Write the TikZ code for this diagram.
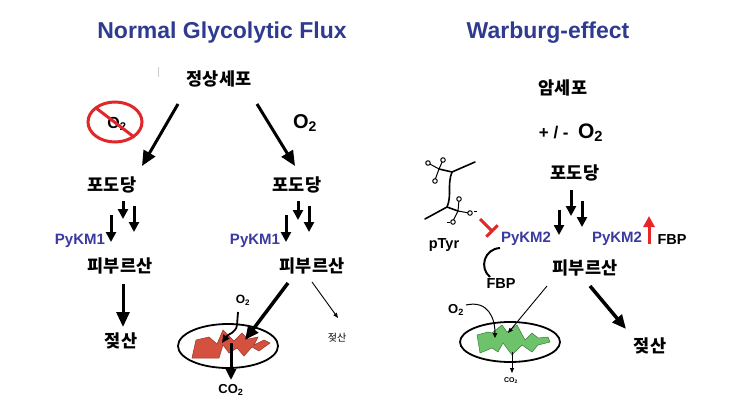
\documentclass[tikz,border=0pt]{standalone}
\usepackage{fontspec}
\setmainfont{Liberation Sans}
\newfontfamily\krfont{Noto Sans CJK KR}
\usetikzlibrary{arrows.meta}
\definecolor{titleblue}{HTML}{2E3B8F}
\definecolor{pkblue}{HTML}{3A3AA0}
\definecolor{nored}{HTML}{E0282A}
\definecolor{mred}{HTML}{D4503F}
\definecolor{mredline}{HTML}{9A3428}
\definecolor{mgreen}{HTML}{6CC36A}
\definecolor{mgreenline}{HTML}{3C7A3A}
\definecolor{upred}{HTML}{E8262A}
\begin{document}
\begin{tikzpicture}[x=1pt,y=-1pt,
  title/.style={font=\bfseries\fontsize{23}{25}\selectfont, text=titleblue, inner sep=0pt},
  kr/.style={font=\krfont\bfseries\fontsize{17.5}{19}\selectfont, inner sep=0pt},
  krsmall/.style={font=\krfont\fontsize{10}{12}\selectfont, inner sep=0pt},
  enz/.style={font=\bfseries\fontsize{15}{17}\selectfont, text=pkblue, inner sep=0pt},
  lbl/.style={font=\bfseries\fontsize{14.5}{16}\selectfont, inner sep=0pt},
  gas/.style={font=\bfseries\fontsize{13}{15}\selectfont, inner sep=0pt},
  tinygas/.style={font=\bfseries\fontsize{7}{8}\selectfont, inner sep=0pt},
  bigarr/.style={line width=3pt, -{Triangle[length=15pt,width=13pt]}},
  smallarr/.style={line width=3pt, -{Triangle[length=10pt,width=10pt]}},
  thinarr/.style={line width=0.9pt, -{Triangle[length=5pt,width=4pt]}},
  mito/.style={draw=black, line width=1.8pt, fill=white},
  bond/.style={line width=1.6pt, line cap=round},
  oatom/.style={circle, draw=black, line width=1pt, fill=white, inner sep=0pt, minimum size=4.5pt},
]
\useasboundingbox (0,0) rectangle (743,412);
\fill[white] (0,0) rectangle (743,412);

% titles
\node[title] (t1) at (222,33) {Normal Glycolytic Flux};
\node[title] (t2) at (548,33) {Warburg-effect};

% faint artifact mark
\draw[gray!40, line width=0.8pt] (158,67) -- (158,77);

% ===== Normal =====
\node[kr] (cell) at (219,79) {정상세포};
% no O2 sign
\node[font=\bfseries\fontsize{16}{18}\selectfont, inner sep=0pt] (noO2) at (117,124) {O\textsubscript{2}};
\draw[nored, line width=3pt] (115,122) ellipse [x radius=27, y radius=20];
\coordinate (sl1) at (96,108);
\coordinate (sl2) at (134,137);
\draw[nored, line width=3pt] (sl1) -- (sl2);
\node[font=\bfseries\fontsize{20}{22}\selectfont, inner sep=0pt] (O2r) at (305,123) {O\textsubscript{2}};

\node[kr] (glcL) at (112,185) {포도당};
\node[kr] (glcR) at (297,185) {포도당};
\coordinate (aL1) at (178,104); \coordinate (aL2) at (142,166);
\coordinate (aR1) at (257,104); \coordinate (aR2) at (295,166);
\draw[bigarr] (aL1) -- (aL2);
\draw[bigarr] (aR1) -- (aR2);

% small arrows left
\coordinate (la1) at (123,201); \coordinate (la2) at (123,219);
\coordinate (lb1) at (134,206); \coordinate (lb2) at (134,232);
\coordinate (lc1) at (111,215); \coordinate (lc2) at (111,242);
\draw[smallarr] (la1) -- (la2);
\draw[smallarr] (lb1) -- (lb2);
\draw[smallarr] (lc1) -- (lc2);
% small arrows right
\coordinate (ra1) at (298,201); \coordinate (ra2) at (298,220);
\coordinate (rb1) at (309,206); \coordinate (rb2) at (309,232);
\coordinate (rc1) at (286,215); \coordinate (rc2) at (286,242);
\draw[smallarr] (ra1) -- (ra2);
\draw[smallarr] (rb1) -- (rb2);
\draw[smallarr] (rc1) -- (rc2);

\node[enz] (pk1L) at (80,241) {PyKM1};
\node[enz] (pk1R) at (255,241) {PyKM1};

\node[kr] (pyrL) at (120,266) {피부르산};
\node[kr] (pyrR) at (312,266) {피부르산};

\node[kr] (lacL) at (121,341) {젖산};
\coordinate (pl1) at (123,284); \coordinate (pl2) at (123,327);
\draw[bigarr] (pl1) -- (pl2);

% mitochondrion (normal)
\draw[mito] (228,346) ellipse [x radius=50, y radius=22];
\filldraw[fill=mred, draw=mredline, line width=0.5pt]
  (192,358) -- (196,340) -- (209,337) -- (217,344) -- (223,330) -- (234,341) -- (242,333) -- (248,339) -- (258,337) -- (254,345) -- (264,340) -- (270,343) -- (259,351) -- (252,347) -- (244,356) -- (237,348) -- (229,353) -- (223,345) -- (219,358) -- cycle;
\node[gas, font=\bfseries\fontsize{12}{14}\selectfont] (O2n) at (243,300) {O\textsubscript{2}};
\coordinate (o2c) at (222,343);
\draw[line width=1.8pt, -{Triangle[length=8pt,width=7pt]}] (238,312) -- (237,325) .. controls (236,333) and (228,334) .. (o2c);
\coordinate (tk1) at (288,283); \coordinate (tk2) at (245,340);
\draw[line width=3.5pt, -{Triangle[length=14pt,width=12pt]}] (tk1) -- (tk2);
\coordinate (tn1) at (312,282); \coordinate (tn2) at (338,318);
\draw[thinarr] (tn1) -- (tn2);
\node[krsmall] (lacS) at (337,338) {젖산};
\coordinate (co1) at (231,343); \coordinate (co2) at (231,380);
\draw[line width=3pt, -{Triangle[length=11pt,width=10pt]}] (co1) -- (co2);
\node[gas] (CO2n) at (231,390) {CO\textsubscript{2}};

% ===== Warburg =====
\node[kr] (cancer) at (563,88) {암세포};
\node[inner sep=0pt] (pm) at (571,133) {\bfseries\fontsize{17}{19}\selectfont + / -\ \ \fontsize{21}{23}\selectfont O\textsubscript{2}};
\node[kr] (glcW) at (575,173) {포도당};
\coordinate (wa1) at (571,190); \coordinate (wa2) at (571,216);
\coordinate (wb1) at (582,201); \coordinate (wb2) at (582,227);
\coordinate (wc1) at (559,210); \coordinate (wc2) at (559,235);
\draw[smallarr] (wa1) -- (wa2);
\draw[smallarr] (wb1) -- (wb2);
\draw[smallarr] (wc1) -- (wc2);

\node[enz] (pk2L) at (526,239) {PyKM2};
\node[enz] (pk2R) at (617,239) {PyKM2};
\node[lbl] (fbpR) at (672,240) {FBP};
\coordinate (up1) at (649,244); \coordinate (up2) at (649,216);
\draw[upred, line width=3pt, -{Triangle[length=11pt,width=11pt]}] (up1) -- (up2);

% pTyr structure
\node[lbl] (ptyr) at (444,245) {pTyr};
\draw[bond] (425,219) -- (447,207) -- (458,211);
\draw[bond] (447,207) .. controls (452,196) and (447,184) .. (452,172);
\draw[bond] (452,172) -- (475,162);
\draw[bond] (452,172) -- (439,169);
\draw[line width=1pt] (439,169) -- (428,163);
\draw[line width=1pt] (439,169) -- (443,160);
\draw[line width=1pt] (439,169) -- (435,180);
\node[oatom] (oa1) at (428,163) {};
\node[oatom] (oa2) at (443,160) {};
\node[oatom] (oa3) at (435,181) {};
\draw[line width=1pt] (458,211) -- (459,200);
\draw[line width=1pt] (458,211) -- (469,213);
\draw[line width=1pt] (458,211) -- (453,221);
\node[oatom] (ob1) at (459,199) {};
\node[oatom] (ob2) at (470,213) {};
\node[oatom] (ob3) at (453,222) {};
\draw[line width=0.8pt] (447,222) -- (450,222);
\draw[line width=0.8pt] (474,211) -- (477,211);

% inhibition
\coordinate (in1) at (480,219); \coordinate (in2) at (493,232);
\draw[nored, line width=3pt, -{Bar[width=16pt]}] (in1) -- (in2);

% FBP curl
\node[lbl] (fbpL) at (501,284) {FBP};
\draw[line width=2pt] (500,248) .. controls (484,249) and (479,268) .. (490,277);

\node[kr] (pyrW) at (585,268) {피부르산};
\node[kr] (lacW) at (650,346) {젖산};

% mitochondrion (Warburg)
\draw[mito] (510,342) ellipse [x radius=50, y radius=20];
\filldraw[fill=mgreen, draw=mgreenline, line width=0.5pt]
  (477,335) -- (480,353) -- (492,348) -- (498,352) -- (503,343) -- (512,355) -- (522,345) -- (532,352) -- (538,345) -- (550,342) -- (548,337) -- (538,338) -- (532,333) -- (525,340) -- (517,325) -- (507,332) -- (502,325) -- (492,333) -- (488,332) -- cycle;
\node[gas] (O2w) at (456,310) {O\textsubscript{2}};
\coordinate (o2w1) at (466,305); \coordinate (o2w2) at (495,338);
\draw[line width=1pt, -{Triangle[length=5pt,width=4.5pt]}] (o2w1) .. controls (488,300) and (495,318) .. (o2w2);
\coordinate (wt1) at (547,286); \coordinate (wt2) at (508,333);
\draw[thinarr] (wt1) -- (wt2);
\coordinate (wk1) at (590,286); \coordinate (wk2) at (626,329);
\draw[line width=3.5pt, -{Triangle[length=14pt,width=12pt]}] (wk1) -- (wk2);
\coordinate (wc1b) at (512,352); \coordinate (wc2b) at (512,373);
\draw[thinarr] (wc1b) -- (wc2b);
\node[tinygas] (CO2w) at (511,381) {CO\textsubscript{2}};
\end{tikzpicture}
\end{document}
